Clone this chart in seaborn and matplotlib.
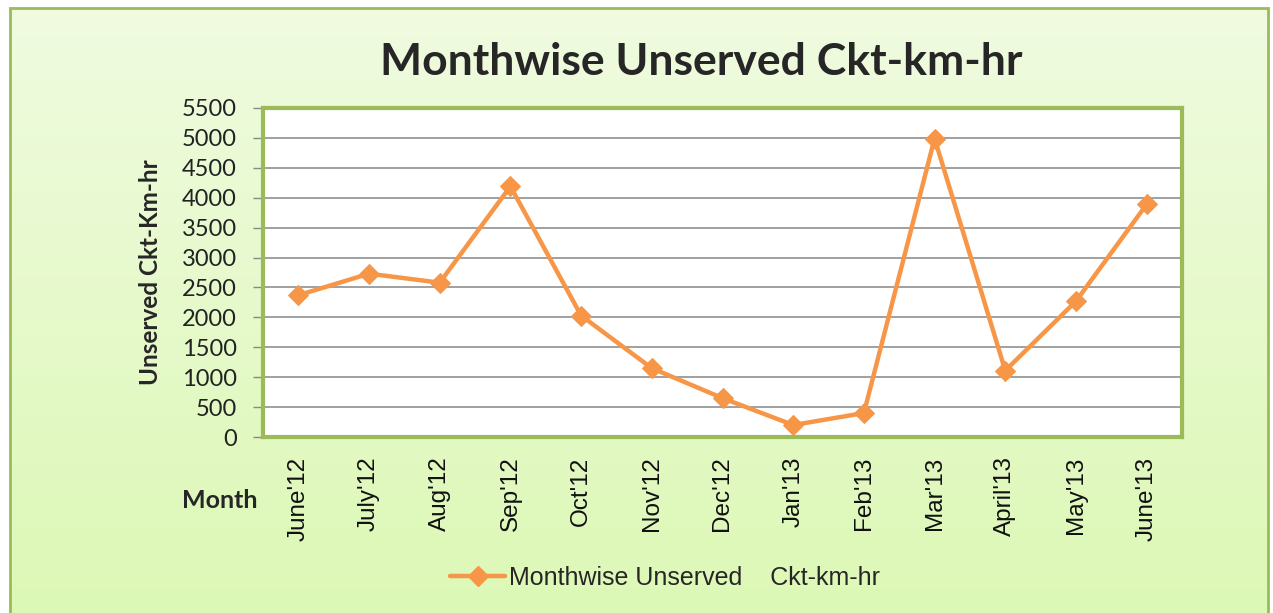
import numpy as np
import pandas as pd
import matplotlib
matplotlib.use("Agg")
import matplotlib.pyplot as plt
import seaborn as sns
from matplotlib.patches import Rectangle
from matplotlib.lines import Line2D

months = ["June'12", "July'12", "Aug'12", "Sep'12", "Oct'12", "Nov'12", "Dec'12",
          "Jan'13", "Feb'13", "Mar'13", "April'13", "May'13", "June'13"]
unserved = [2370, 2730, 2580, 4190, 2030, 1150, 650, 200, 400, 4990, 1110, 2270, 3890]
yticks = list(range(0, 5501, 500))
series_name = "Monthwise Unserved    Ckt-km-hr"

sns.set_theme(style="white")
plt.rcParams['font.family'] = ['Lato', 'DejaVu Sans']

W, H = 1273, 613
fig = plt.figure(figsize=(W / 100, H / 100), dpi=100)
fig.patch.set_facecolor("white")

# gradient background box
bx0, by0, bx1, by1 = 10 / W, -0.01, 1268 / W, 1 - 8 / H
bg = fig.add_axes([bx0, by0, bx1 - bx0, by1 - by0], zorder=-2)
top = np.array([0xF0, 0xFB, 0xE0]) / 255
bot = np.array([0xDC, 0xF8, 0xB5]) / 255
t = np.linspace(0, 1, 256)[:, None]
grad = top[None, :] * (1 - t) + bot[None, :] * t
bg.imshow(grad[:, None, :].repeat(2, axis=1), aspect="auto", extent=[0, 1, 0, 1])
bg.set_axis_off()
fig.patches.append(Rectangle((bx0, by0), bx1 - bx0, by1 - by0, transform=fig.transFigure,
                             fill=False, edgecolor="#9BBB59", linewidth=2.0, zorder=5))

ax = fig.add_axes([263 / W, 1 - 437 / H, (1182 - 263) / W, (437 - 108) / H])
ax.set_facecolor("white")

df = pd.DataFrame({"Month": months, "Value": unserved, "pos": np.arange(len(months))})
sns.lineplot(data=df, x="pos", y="Value", ax=ax, color="#F79646", linewidth=3.2,
             marker="D", markersize=10, markeredgecolor="#F79646", sort=False, legend=False)

ax.set_xlim(-0.5, len(months) - 0.5)
ax.set_ylim(0, 5500)
ax.set_yticks(yticks)
ax.set_yticklabels([str(v) for v in yticks], fontsize=17, color="#222222")
ax.yaxis.grid(True, color="#999999", linewidth=1.3)
ax.set_axisbelow(True)

ax.set_xticks(np.arange(-0.5, len(months), 1))
ax.set_xticklabels([])
ax.set_xticks(np.arange(len(months)), minor=True)
ax.set_xticklabels(months, minor=True, rotation=90, fontsize=17.5,
                   family=['Liberation Sans', 'DejaVu Sans'], color="#111111")
ax.tick_params(axis="x", which="minor", length=0, pad=14)
ax.tick_params(axis="x", which="major", length=7, width=1, color="#888888", direction="out")
ax.tick_params(axis="y", length=7, width=1, color="#888888", direction="out", left=True, pad=12)

for s in ax.spines.values():
    s.set_color("#9BBB59")
    s.set_linewidth(3)

ax.set_xlabel("")
ax.set_ylabel("Unserved Ckt-Km-hr", fontsize=17.5, fontweight="bold", labelpad=14)
fig.text(220 / W, 1 - 500 / H, "Month", fontsize=18, fontweight="bold", ha="center", va="center")

fig.suptitle("Monthwise Unserved Ckt-km-hr", x=701 / W, y=1 - 62 / H, va="center",
             fontsize=32, fontweight="bold")

handle = Line2D([], [], color="#F79646", linewidth=3.2, marker="D", markersize=10)
fig.legend([handle], [series_name], loc="center", bbox_to_anchor=(665 / W, 1 - 578 / H),
           frameon=False, prop={"family": ["Liberation Sans"], "size": 18},
           handlelength=2.2, handletextpad=0.15)

fig.savefig("out.png", dpi=100)
